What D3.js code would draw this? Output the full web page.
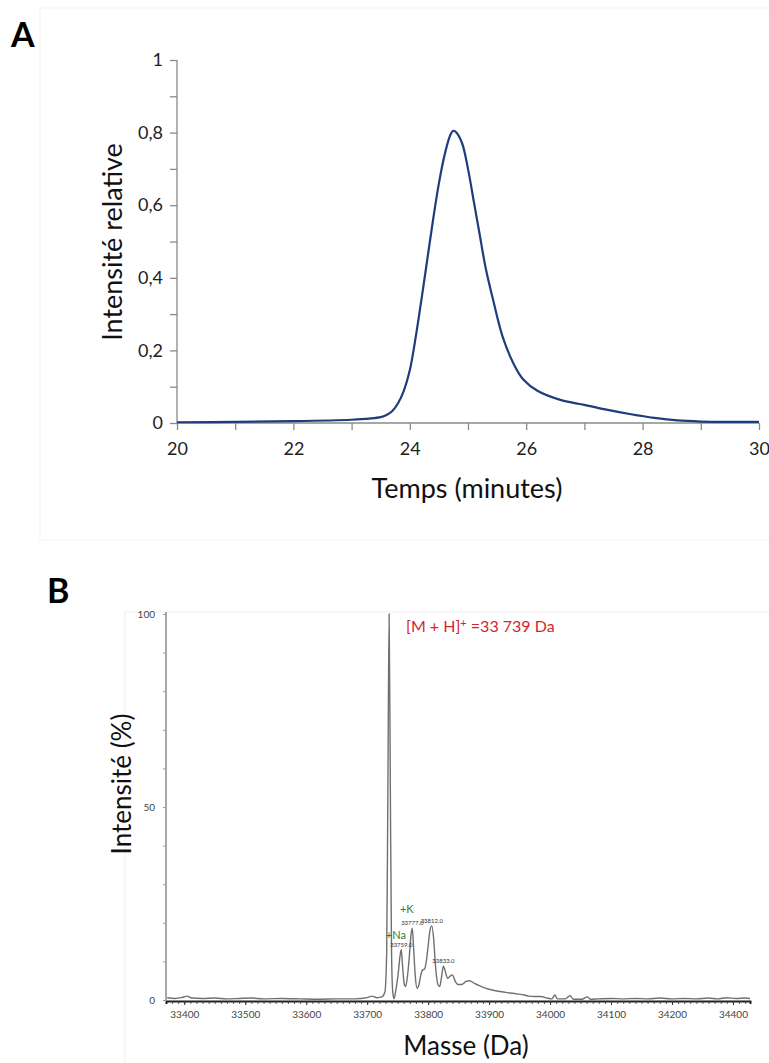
<!DOCTYPE html>
<html><head><meta charset="utf-8">
<script src="https://cdn.jsdelivr.net/npm/d3@7"></script>
<style>
body{margin:0;background:#fff}
svg{display:block}
text{font-family:Lato,'Open Sans',sans-serif}
</style>
</head><body>
<svg id="c" width="769" height="1063"></svg>
<script>
// ---------- Panel A : chromatogram ----------
const timeMin = [20,21,22,23,23.3,23.5,23.6,23.7,23.8,23.9,24.0,24.1,24.2,24.3,24.4,24.5,24.6,24.7,24.75,24.8,24.9,25.0,25.1,25.2,25.3,25.43,25.6,25.8,25.95,26.2,26.6,27.0,27.4,27.8,28.2,28.6,29,29.5,30];
const relIntensity = [0.002,0.003,0.005,0.009,0.012,0.016,0.022,0.033,0.055,0.09,0.145,0.235,0.34,0.45,0.56,0.66,0.74,0.795,0.805,0.80,0.77,0.70,0.61,0.52,0.43,0.34,0.235,0.158,0.12,0.088,0.063,0.05,0.036,0.024,0.014,0.007,0.004,0.003,0.003];
const aYTicks = [0,0.2,0.4,0.6,0.8,1];
const aYTickLabels = ["0","0,2","0,4","0,6","0,8","1"];
const aXTicks = [20,22,24,26,28,30];
const aXTickLabels = ["20","22","24","26","28","30"];

// ---------- Panel B : deconvoluted mass spectrum ----------
const massDa = [33372,33385,33395,33405,33412,33430,33450,33470,33490,33510,33530,33560,33590,33620,33650,33680,33700,33708,33716,33724,33729,33732,33734,33736,33738,33740,33742,33744,33747,33751,33754,33756,33758,33761,33763,33766,33769,33772,33774,33776,33779,33782,33785,33788,33791,33794,33797,33800,33803,33806,33809,33812,33816,33819,33822,33825,33828,33832,33836,33840,33844,33849,33855,33862,33868,33876,33884,33895,33905,33918,33930,33945,33958,33965,33975,33985,33995,34003,34008,34012,34025,34033,34038,34052,34061,34066,34080,34100,34120,34140,34160,34180,34200,34220,34240,34260,34275,34290,34305,34320,34328];
const intensityPct = [0.6,0.4,0.6,1.0,0.5,0.4,0.5,0.3,0.4,0.5,0.3,0.4,0.3,0.2,0.3,0.3,0.6,1.0,0.6,0.8,2,12,55,100,55,12,2,0.3,2.5,7,11.5,13,9,4,3.5,6,11,17,18.6,14,6,3,4,6.5,7.8,8,10,14,18,19.2,16,9,4,3.5,6,8.8,7.5,5.6,6.2,6.5,5,4,4,4.8,5,4.3,3.7,3,2.6,2.2,1.9,1.6,1.3,1.0,0.9,0.9,0.5,0.3,1.3,0.3,0.3,1.1,0.2,0.2,0.8,0.2,0.3,0.4,0.3,0.4,0.3,0.5,0.3,0.4,0.3,0.5,0.3,0.6,0.4,0.5,0.4];
const bXTicks = [33400,33500,33600,33700,33800,33900,34000,34100,34200,34300];
const bXTickLabels = ["33400","33500","33600","33700","33800","33900","34000","34100","34200","34400"];
const bYTicks = [0,50,100];
const bYTickLabels = ["0","50","100"];
const peakLabelText = ["33759.0","33777.0","33812.0","33833.0"];
const peakLabelMass = [33756,33774,33806,33825];
const peakLabelValue = [13,18.6,19.2,8.8];
const adductText = ["+Na","+K"];
const adductMass = [33747,33765];
const adductValue = [15.8,22.5];

const svg = d3.select("#c");
svg.append("rect").attr("width",769).attr("height",1063).attr("fill","#fff");

// faint panel frames
svg.append("rect").attr("x",40).attr("y",8).attr("width",740).attr("height",532)
  .attr("fill","none").attr("stroke","#f3f3f3");
svg.append("rect").attr("x",125).attr("y",612).attr("width",660).attr("height",470)
  .attr("fill","none").attr("stroke","#f0f0f0");

// panel letters
svg.append("text").attr("x",11).attr("y",47).attr("font-family","'Liberation Sans',Arial,sans-serif")
  .attr("font-weight","bold").attr("font-size",34).attr("fill","#000").text("A");
svg.append("text").attr("x",47).attr("y",603).attr("font-family","'Liberation Sans',Arial,sans-serif")
  .attr("font-weight","bold").attr("font-size",34).attr("fill","#000").text("B");

// ---- A ----
const xA = d3.scaleLinear().domain([20,30]).range([177,759]);
const yA = d3.scaleLinear().domain([0,1]).range([423,60]);

const gAy = svg.append("g").attr("transform",`translate(${xA(20)},0)`)
  .call(d3.axisLeft(yA).tickValues(d3.range(0,1.0001,0.1)).tickSize(7)
    .tickFormat(d=>{const i=aYTicks.findIndex(v=>Math.abs(v-d)<1e-6);return i>=0?aYTickLabels[i]:"";}).tickPadding(7));
const gAx = svg.append("g").attr("transform",`translate(0,${yA(0)})`)
  .call(d3.axisBottom(xA).tickValues(d3.range(20,30.001,1)).tickSize(7)
    .tickFormat(d=>{const i=aXTicks.indexOf(d);return i>=0?aXTickLabels[i]:"";}).tickPadding(12));
[gAy,gAx].forEach(g=>{
  g.selectAll("path,line").attr("stroke","#8a8a8a").attr("stroke-width",1.3);
  g.select(".domain").attr("d", g===gAy ? `M0,${yA(1)}V${yA(0)}` : `M${xA(20)},0H${xA(30)}`);
  g.selectAll("text").attr("font-family","Lato,sans-serif").attr("font-size",18).attr("fill","#222");
});

svg.append("path")
  .datum(timeMin.map((t,i)=>[t,relIntensity[i]]))
  .attr("fill","none").attr("stroke","#1f3c7c").attr("stroke-width",2.2)
  .attr("d", d3.line().x(d=>xA(d[0])).y(d=>yA(d[1])).curve(d3.curveCatmullRom.alpha(0.5)));

svg.append("text").attr("x",467).attr("y",498).attr("text-anchor","middle")
  .attr("font-size",27).attr("fill","#111").text("Temps (minutes)");
svg.append("text").attr("transform","translate(122,242) rotate(-90)").attr("text-anchor","middle")
  .attr("font-size",27).attr("fill","#111").text("Intensité relative");

// ---- B ----
const xB = d3.scaleLinear().domain([33370,34328]).range([166,750]);
const yB = d3.scaleLinear().domain([0,100]).range([1000,614]);

// minor ticks x
const gBxMinor = svg.append("g").attr("transform",`translate(0,1001)`)
  .call(d3.axisBottom(xB).tickValues(d3.range(33380,34329,10)).tickSize(3).tickFormat(""));
gBxMinor.selectAll("line").attr("stroke","#333").attr("stroke-width",0.8);
gBxMinor.select(".domain").attr("stroke","#222").attr("stroke-width",2);
const gBx = svg.append("g").attr("transform",`translate(0,1001)`)
  .call(d3.axisBottom(xB).tickValues(bXTicks).tickSize(4)
    .tickFormat((d,i)=>bXTickLabels[i]).tickPadding(6));
gBx.select(".domain").remove();
gBx.selectAll("line").attr("stroke","#333");
gBx.selectAll("text").attr("font-size",10).attr("fill","#444").attr("font-family","Lato,sans-serif");

const gBy = svg.append("g").attr("transform",`translate(${xB(33370)},0)`)
  .call(d3.axisLeft(yB).tickValues(d3.range(0,100.1,10)).tickSize(3)
    .tickFormat(d=>{const i=bYTicks.indexOf(d);return i>=0?bYTickLabels[i]:"";}).tickPadding(8));
gBy.select(".domain").attr("d",`M0,612V1001`).attr("stroke","#8a8a8a").attr("stroke-width",1.5);
gBy.selectAll("line").attr("stroke","#999");
gBy.selectAll("text").attr("font-size",10).attr("fill","#444").attr("font-family","Lato,sans-serif");

svg.append("path")
  .datum(massDa.map((m,i)=>[m,intensityPct[i]]))
  .attr("fill","none").attr("stroke","#707070").attr("stroke-width",1.4)
  .attr("d", d3.line().x(d=>xB(d[0])).y(d=>yB(d[1])).curve(d3.curveMonotoneX));

// peak mass labels
svg.append("g").selectAll("text").data(peakLabelText).join("text")
  .attr("x",(d,i)=>xB(peakLabelMass[i]))
  .attr("y",(d,i)=>yB(peakLabelValue[i])-3)
  .attr("text-anchor","middle").attr("font-size",6).attr("fill","#333")
  .attr("font-family","'Liberation Sans',Arial,sans-serif").text(d=>d);
// adduct labels
svg.append("g").selectAll("text").data(adductText).join("text")
  .attr("x",(d,i)=>xB(adductMass[i]))
  .attr("y",(d,i)=>yB(adductValue[i]))
  .attr("text-anchor","middle").attr("font-size",11).attr("fill","#2e7d3a")
  .text(d=>d);

// main annotation
const ann = svg.append("text").attr("x",406).attr("y",632).attr("font-size",16).attr("fill","#d7262b");
ann.append("tspan").text("[M + H]");
ann.append("tspan").attr("dy",-5).attr("font-size",11).text("+");
ann.append("tspan").attr("dy",5).text(" =33 739 Da");

svg.append("text").attr("x",466).attr("y",1055).attr("text-anchor","middle")
  .attr("font-size",26).attr("fill","#111").text("Masse (Da)");
svg.append("text").attr("transform","translate(131,784) rotate(-90)").attr("text-anchor","middle")
  .attr("font-size",26).attr("fill","#111").text("Intensité (%)");
</script>
</body></html>
